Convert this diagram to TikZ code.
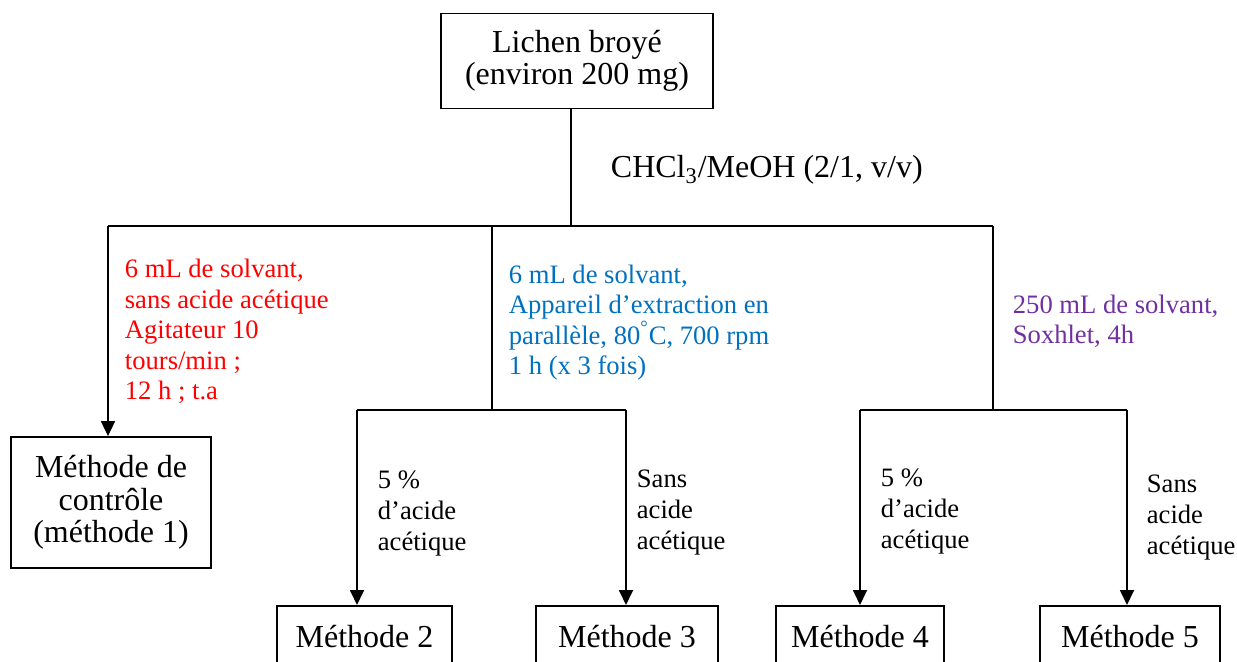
\documentclass[tikz,border=0pt]{standalone}
\usepackage{fontspec}
\setmainfont{Liberation Serif}
\usetikzlibrary{arrows.meta}
\definecolor{condred}{RGB}{255,0,0}
\definecolor{condblue}{RGB}{0,112,192}
\definecolor{condpurple}{RGB}{112,48,160}

\begin{document}
\begin{tikzpicture}[x=0.5pt, y=-0.5pt, line width=0.9pt,
  box/.style={draw, align=center, inner sep=0pt, font=\fontsize{16}{16.2}\selectfont},
  cond/.style={anchor=base west, align=left, inner sep=0pt, font=\fontsize{13.3}{15.3}\selectfont},
  flow/.style={-{Triangle[length=7.5pt, width=7pt]}}]
  \clip (0,0) rectangle (1237,662);
  % start
  \node[box, minimum width=136pt, minimum height=47.5pt] (lichen) at (577,61) {Lichen broyé\\(environ 200 mg)};
  \node[anchor=base west, inner sep=0pt, font=\fontsize{16}{17.5}\selectfont] (solv) at (610,178) {CHCl\textsubscript{3}/MeOH (2/1, v/v)};
  % methods
  \node[box, minimum width=100pt, minimum height=65.5pt] (m1) at (111,502.5) {Méthode de\\contrôle\\(méthode 1)};
  \foreach \n/\x/\w in {2/364.5/87.5, 3/627/91, 4/860/84, 5/1130/90}
    \node[box, anchor=north, minimum width=\w pt, minimum height=31pt] (m\n) at (\x,605) {Méthode \n};
  % conditions (base = last line)
  \node[cond, text=condred] (c1) at (124,400) {6 mL de solvant,\\sans acide acétique\\Agitateur 10\\tours/min ;\\12 h ; t.a};
  \node[cond, text=condblue] (c2) at (508,375) {6 mL de solvant,\\Appareil d’extraction en\\parallèle, 80\textsuperscript{°}C, 700 rpm\\1 h (x 3 fois)};
  \node[cond, text=condpurple] (c3) at (1012,344) {250 mL de solvant,\\Soxhlet, 4h};
  \node[cond] (a2) at (377,550) {5 \%\\d’acide\\acétique};
  \node[cond] (a3) at (636,549) {Sans\\acide\\acétique};
  \node[cond] (a4) at (880,548) {5 \%\\d’acide\\acétique};
  \node[cond] (a5) at (1146,554) {Sans\\acide\\acétique};
  % junctions
  \coordinate (j0) at (571,226);
  \coordinate (jl) at (108,226);
  \coordinate (jm) at (492,226);
  \coordinate (jr) at (993,226);
  \coordinate (sm) at (492,410);
  \coordinate (sml) at (357,410);
  \coordinate (smr) at (626,410);
  \coordinate (sr) at (993,410);
  \coordinate (srl) at (860,410);
  \coordinate (srr) at (1127,410);
  % lines
  \draw (lichen.south -| j0) -- (j0);
  \draw (jl) -- (jr);
  \draw[flow] (jl) -- (jl |- m1.north);
  \draw (jm) -- (sm);
  \draw (jr) -- (sr);
  \draw (sml) -- (smr);
  \draw (srl) -- (srr);
  \draw[flow] (sml) -- (sml |- m2.north);
  \draw[flow] (smr) -- (smr |- m3.north);
  \draw[flow] (srl) -- (srl |- m4.north);
  \draw[flow] (srr) -- (srr |- m5.north);
\end{tikzpicture}
\end{document}
